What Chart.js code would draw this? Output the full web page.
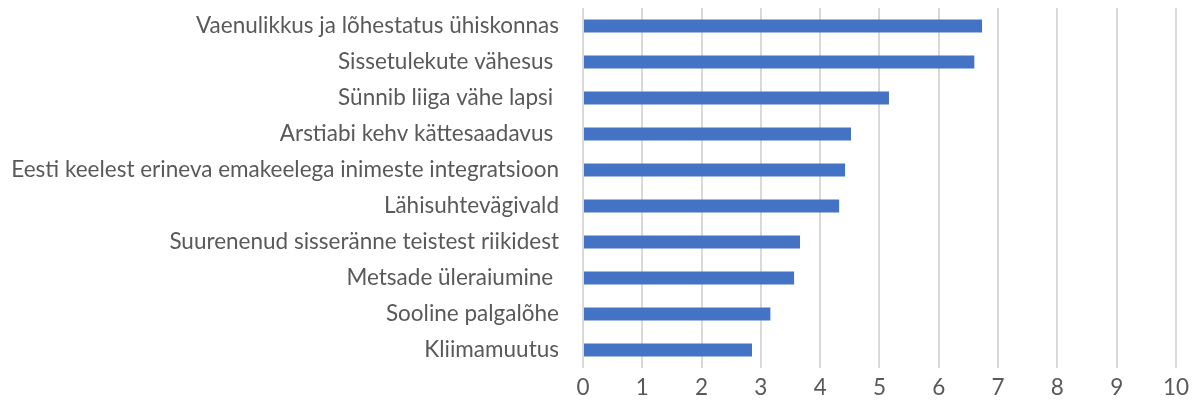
<!DOCTYPE html>
<html>
<head>
<meta charset="utf-8">
<script src="https://cdn.jsdelivr.net/npm/chart.js@4"></script>
<style>
    html, body { margin: 0; padding: 0; background: #ffffff; }
    #wrap { width: 1195px; height: 408px; }
</style>
</head>
<body>
<div id="wrap"><canvas id="myChart" width="1195" height="408"></canvas></div>
<script>
// categories, top to bottom
const categories = [
    'Vaenulikkus ja lõhestatus ühiskonnas',
    'Sissetulekute vähesus ',
    'Sünnib liiga vähe lapsi ',
    'Arstiabi kehv kättesaadavus ',
    'Eesti keelest erineva emakeelega inimeste integratsioon',
    'Lähisuhtevägivald',
    'Suurenenud sisseränne teistest riikidest',
    'Metsade üleraiumine ',
    'Sooline palgalõhe',
    'Kliimamuutus'
];

const scores = [6.73, 6.60, 5.16, 4.52, 4.42, 4.32, 3.66, 3.56, 3.16, 2.85];

const axisMin = 0;
const axisMax = 10;
const axisStep = 1;

const textColor = '#595959';
const gridColor = '#d9d9d9';
const labelFont = { family: 'Lato', size: 22.5 };

const ctx = document.getElementById('myChart').getContext('2d');
const myChart = new Chart(ctx, {
    type: 'bar',
    data: {
        labels: categories,
        datasets: [{
            data: scores,
            backgroundColor: '#4472c4',
            borderWidth: 0,
            barPercentage: 0.36,
            categoryPercentage: 1
        }]
    },
    options: {
        indexAxis: 'y',
        responsive: false,
        animation: false,
        layout: {
            padding: { top: 8, right: 17, bottom: 0, left: 0 }
        },
        plugins: {
            legend: { display: false },
            tooltip: { enabled: false }
        },
        scales: {
            x: {
                min: axisMin,
                max: axisMax,
                ticks: {
                    stepSize: axisStep,
                    color: textColor,
                    padding: 6,
                    font: labelFont
                },
                grid: {
                    color: gridColor,
                    lineWidth: 2,
                    drawTicks: false
                },
                border: { display: false },
                afterFit: (scale) => { scale.height = 40; }
            },
            y: {
                ticks: {
                    color: textColor,
                    padding: 24,
                    autoSkip: false,
                    font: labelFont
                },
                grid: { display: false, drawTicks: false },
                border: { display: false },
                afterFit: (scale) => {
                    scale.width = 583;
                    // keep the label padding from pushing the plot area down
                    scale.paddingTop = 0;
                    scale.paddingBottom = 0;
                }
            }
        }
    }
});
</script>
</body>
</html>
